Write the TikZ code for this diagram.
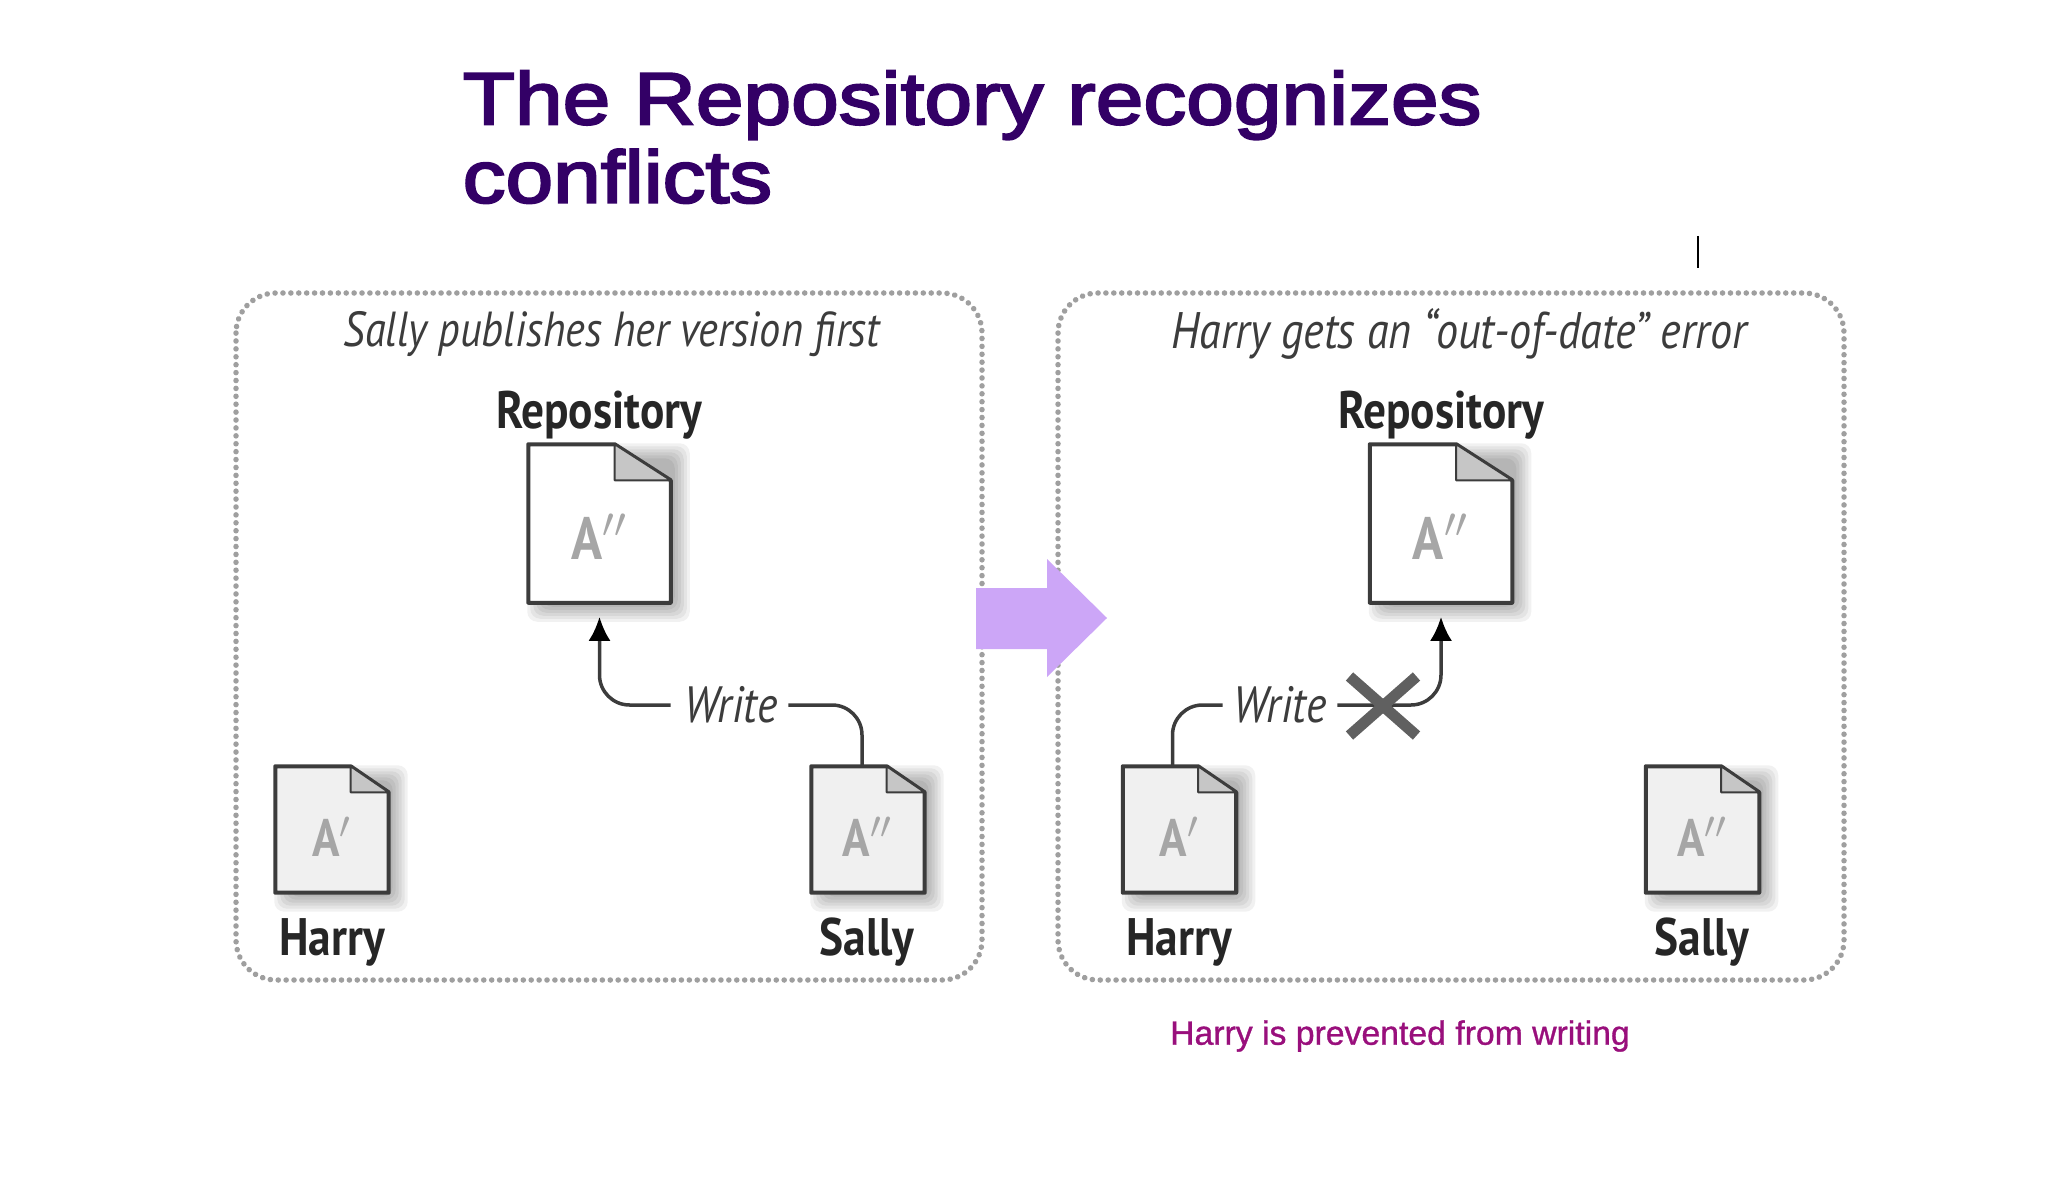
\documentclass[tikz,border=0pt]{standalone}
\usepackage{fontspec}
\usepackage{tikz}
\usetikzlibrary{arrows.meta,shapes.misc}
\setmainfont{Liberation Sans}
\newfontfamily\labelfont[FakeStretch=0.86]{PT Sans}
\newfontfamily\slidefont[FakeStretch=1.16,FakeBold=3]{Liberation Sans}
\newfontfamily\notefont[FakeBold=1]{Liberation Sans}
\definecolor{titlepurple}{HTML}{330066}
\definecolor{notemagenta}{HTML}{990F7C}
\definecolor{arrowlilac}{HTML}{CCA6F7}
\definecolor{inkgrey}{HTML}{3C3C3C}
\tikzset{
    panel/.style={draw=gray!75,line width=0.055cm,line cap=round,dash pattern=on 0.001cm off 0.078cm,rounded corners=0.4cm},
    sheetbig/.style={minimum width=1.41cm,minimum height=1.57cm,inner sep=0pt,text=gray!70,font=\labelfont\bfseries\fontsize{17}{17}\selectfont},
    sheetsmall/.style={minimum width=1.12cm,minimum height=1.25cm,inner sep=0pt,text=gray!70,font=\labelfont\bfseries\fontsize{15}{15}\selectfont},
    who/.style={inner sep=0pt,text=black!85,font=\labelfont\bfseries\fontsize{15}{15}\selectfont},
    caption/.style={inner sep=0pt,text=inkgrey,font=\labelfont\itshape\fontsize{14}{15}\selectfont},
    wirelabel/.style={inner sep=0pt,text=inkgrey,font=\labelfont\itshape\fontsize{14.5}{15}\selectfont},
    wire/.style={draw=inkgrey,line width=0.035cm,rounded corners=0.3cm},
}
% outline, fold and soft shadow of a sheet node
\newcommand{\sheetoutline}[4]{%
    \foreach \r in {16,13,10,7,4,1}
        \fill[black,opacity=0.055,rounded corners=0.1cm] ([shift={(15-\r,3+\r)}]#1.south west) rectangle ([shift={(3+\r,15-\r)}]#1.north east);
    \draw[inkgrey,fill=#4,line width=0.04cm,line join=round] (#1.south west) -- (#1.north west) -- ([xshift=-#2 cm]#1.north east) -- ([yshift=-#3 cm]#1.north east) -- (#1.south east) -- cycle;
    \draw[inkgrey,fill=gray!45,line width=0.02cm,line join=round] ([xshift=-#2 cm]#1.north east) -- ([xshift=-#2 cm,yshift=-#3 cm]#1.north east) -- ([yshift=-#3 cm]#1.north east) -- cycle;
}
\begin{document}
\begin{tikzpicture}[x=0.01cm,y=-0.01cm]
    \useasboundingbox (0,0) rectangle (2048,1182);
    \node[anchor=north west,inner sep=0pt,align=left,text=titlepurple,font=\slidefont\fontsize{21}{22.3}\selectfont] (title) at (462,70) {The Repository recognizes\\conflicts};
    \draw[black,line width=0.02cm] (1698,236) -- (1698,268);

    \draw[panel] (236,293) rectangle (982,980);
    \draw[panel] (1058,293) rectangle (1844,980);

    \node[caption] (capleft) at (612,334) {Sally publishes her version first};
    \node[caption,font=\labelfont\itshape\fontsize{14.6}{15}\selectfont] (capright) at (1459,334) {Harry gets an “out-of-date” error};

    % left panel
    \node[sheetbig] (repoL) at (599.5,523.5) {};
    \node[sheetsmall] (harryL) at (332,829.5) {};
    \node[sheetsmall] (sallyL) at (868,829.5) {};
    \sheetoutline{repoL}{0.56}{0.36}{white}
    \sheetoutline{harryL}{0.38}{0.26}{gray!12}
    \sheetoutline{sallyL}{0.38}{0.26}{gray!12}
    \node[sheetbig] (textrepoL) at (599.5,537) {A$''$};
    \node[sheetsmall] (textharryL) at (332,837) {A$'$};
    \node[sheetsmall] (textsallyL) at (868,837) {A$''$};
    \node[who] (labrepoL) at (599,415) {Repository};
    \node[who] (labharryL) at (332,942) {Harry};
    \node[who] (labsallyL) at (867,942) {Sally};
    \node[wirelabel] (writeL) at (731,705) {Write};
    \draw[wire] ([xshift=-0.06cm]sallyL.north) |- ([xshift=0.1cm]writeL.east);
    \draw[wire,-{Latex[length=0.24cm,width=0.22cm,black]},shorten >=0.14cm] ([xshift=-0.13cm]writeL.west) -| (repoL.south);

    % right panel
    \node[sheetbig] (repoR) at (1441,523.5) {};
    \node[sheetsmall] (harryR) at (1179.5,829.5) {};
    \node[sheetsmall] (sallyR) at (1702.5,829.5) {};
    \sheetoutline{repoR}{0.56}{0.36}{white}
    \sheetoutline{harryR}{0.38}{0.26}{gray!12}
    \sheetoutline{sallyR}{0.38}{0.26}{gray!12}
    \node[sheetbig] (textrepoR) at (1441,537) {A$''$};
    \node[sheetsmall] (textharryR) at (1179.5,837) {A$'$};
    \node[sheetsmall] (textsallyR) at (1702.5,837) {A$''$};
    \node[who] (labrepoR) at (1441,415) {Repository};
    \node[who] (labharryR) at (1179,942) {Harry};
    \node[who] (labsallyR) at (1702,942) {Sally};
    \node[wirelabel] (writeR) at (1280,705) {Write};
    \draw[wire] ([xshift=-0.07cm]harryR.north) |- ([xshift=-0.1cm]writeR.west);
    \draw[wire,-{Latex[length=0.24cm,width=0.22cm,black]},shorten >=0.14cm] ([xshift=0.1cm]writeR.east) -| (repoR.south);
    \node[cross out,draw=gray!75!black,line width=0.11cm,minimum width=0.56cm,minimum height=0.48cm,inner sep=0pt] (blocked) at (1383,706) {};

    % arrow between the panels
    \fill[arrowlilac] (976,588) -- (1047,588) -- (1047,559) -- (1107,618) -- (1047,677) -- (1047,649) -- (976,649) -- cycle;

    \node[inner sep=0pt,text=notemagenta,font=\notefont\fontsize{9.6}{10}\selectfont] (note) at (1400,1036) {Harry is prevented from writing};
\end{tikzpicture}
\end{document}
